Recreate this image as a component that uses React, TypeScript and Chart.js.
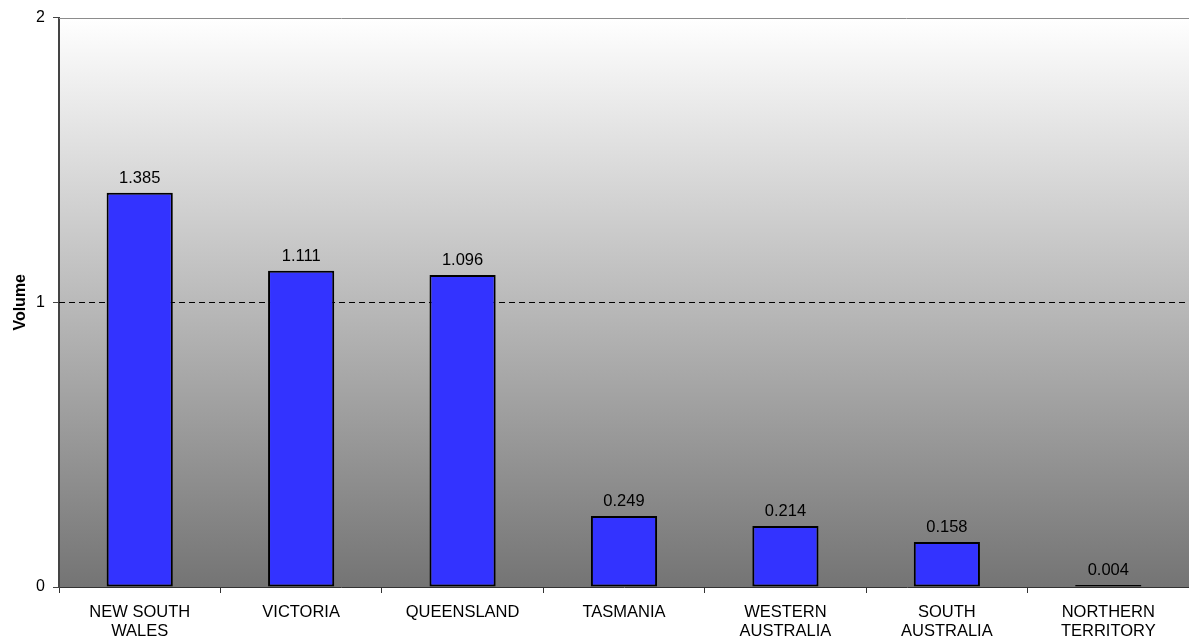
import React, { useEffect, useRef } from "react";
import { Chart, registerables } from "chart.js";

Chart.register(...registerables);

const categories: string[][] = [
  ["NEW SOUTH", "WALES"],
  ["VICTORIA"],
  ["QUEENSLAND"],
  ["TASMANIA"],
  ["WESTERN", "AUSTRALIA"],
  ["SOUTH", "AUSTRALIA"],
  ["NORTHERN", "TERRITORY"],
];
const volumes: number[] = [1.385, 1.111, 1.096, 0.249, 0.214, 0.158, 0.004];
const yMin = 0;
const yMax = 2;
const yStep = 1;

const FONT = "'Liberation Sans', Arial, Helvetica, sans-serif";

const backgroundPlugin = {
  id: "bgGradient",
  beforeDraw(chart: any) {
    const { ctx, chartArea } = chart;
    if (!chartArea) return;
    const g = ctx.createLinearGradient(0, chartArea.top, 0, chartArea.bottom);
    g.addColorStop(0, "#ffffff");
    g.addColorStop(1, "#747474");
    ctx.save();
    ctx.fillStyle = g;
    ctx.fillRect(chartArea.left, chartArea.top, chartArea.right - chartArea.left, chartArea.bottom - chartArea.top);
    ctx.restore();
  },
  beforeDatasetsDraw(chart: any) {
    const { ctx, chartArea, scales } = chart;
    const y = scales.y;
    ctx.save();
    const y1 = Math.round(y.getPixelForValue(1)) + 0.5;
    ctx.strokeStyle = "#000000";
    ctx.lineWidth = 1;
    ctx.setLineDash([6, 4]);
    ctx.beginPath();
    ctx.moveTo(chartArea.left, y1);
    ctx.lineTo(chartArea.right, y1);
    ctx.stroke();
    const y2 = Math.round(y.getPixelForValue(2)) + 0.5;
    ctx.setLineDash([]);
    ctx.strokeStyle = "#8c8c8c";
    ctx.beginPath();
    ctx.moveTo(chartArea.left, y2);
    ctx.lineTo(chartArea.right, y2);
    ctx.stroke();
    ctx.restore();
  },
};

const labelPlugin = {
  id: "valueLabels",
  afterDatasetsDraw(chart: any) {
    const { ctx } = chart;
    const meta = chart.getDatasetMeta(0);
    ctx.save();
    ctx.font = `16.5px ${FONT}`;
    ctx.fillStyle = "#000000";
    ctx.textAlign = "center";
    ctx.textBaseline = "alphabetic";
    meta.data.forEach((el: any, i: number) => {
      ctx.fillText(volumes[i].toFixed(3), el.x, el.y - 10);
    });
    ctx.restore();
  },
};

export default function App() {
  const ref = useRef<HTMLCanvasElement | null>(null);
  useEffect(() => {
    document.body.style.margin = "0";
    const canvas = ref.current;
    if (!canvas) return;
    const chart = new Chart(canvas, {
      type: "bar",
      data: {
        labels: categories,
        datasets: [
          {
            data: volumes,
            backgroundColor: (c: any) => (c.raw < 0.01 ? "#000000" : "#3333ff"),
            borderColor: "#000000",
            borderWidth: 2,
            borderSkipped: false,
            barPercentage: 0.41,
            categoryPercentage: 1,
            minBarLength: 2,
          },
        ],
      },
      options: {
        responsive: false,
        animation: false,
        devicePixelRatio: 1,
        layout: { padding: { top: 16, right: 0, left: 0, bottom: 0 } },
        plugins: {
          legend: { display: false },
          tooltip: { enabled: false },
        },
        scales: {
          x: {
            grid: {
              offset: true,
              drawOnChartArea: false,
              tickLength: 6,
              color: "#333333",
            },
            border: { color: "#333333", width: 1 },
            ticks: {
              color: "#000000",
              font: { family: FONT, size: 16.5, lineHeight: 1.15 },
              padding: 10,
              maxRotation: 0,
              autoSkip: false,
            },
            afterFit(scale: any) {
              scale.height = 51;
            },
          },
          y: {
            min: yMin,
            max: yMax,
            grid: {
              drawOnChartArea: false,
              tickLength: 6,
              color: "#444444",
            },
            border: { color: "#444444", width: 2 },
            ticks: {
              stepSize: yStep,
              color: "#000000",
              font: { family: FONT, size: 16 },
              padding: 8,
            },
            title: {
              display: true,
              text: "Volume",
              color: "#000000",
              font: { family: FONT, size: 16, weight: "bold" },
              padding: { top: 11, bottom: 0 },
            },
            afterFit(scale: any) {
              scale.width = 59;
            },
          },
        },
      },
      plugins: [backgroundPlugin, labelPlugin],
    } as any);
    return () => chart.destroy();
  }, []);
  return <canvas ref={ref} width={1189} height={638} style={{ display: "block" }} />;
}
